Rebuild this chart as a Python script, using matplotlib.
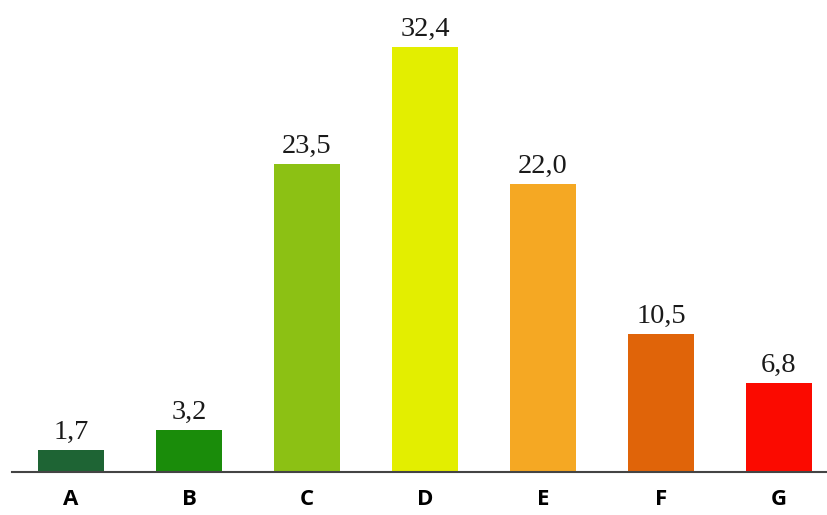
import matplotlib.pyplot as plt

# categories and values
categories = ["A", "B", "C", "D", "E", "F", "G"]
values = [1.7, 3.2, 23.5, 32.4, 22.0, 10.5, 6.8]
labels = ["1,7", "3,2", "23,5", "32,4", "22,0", "10,5", "6,8"]
colors = ["#1e6434", "#1a8c0a", "#8cc114", "#e3ee00", "#f5a823", "#e06409", "#fb0a00"]

fig = plt.figure(figsize=(8.28, 5.15), dpi=100)
ax = fig.add_axes([12 / 828, 43 / 515, 816 / 828, 472 / 515])

x = range(len(categories))
bars = ax.bar(x, values, width=0.56, color=colors)

for b, lab in zip(bars, labels):
    ax.annotate(lab, (b.get_x() + b.get_width() / 2, b.get_height()),
                xytext=(0, 8), textcoords="offset points",
                ha="center", va="baseline", fontsize=20.5,
                family="Liberation Serif", color="#1a1a1a")

ax.set_xlim(-0.5, 6.415)
ax.set_ylim(0, 36)
ax.set_xticks(list(x))
ax.set_xticklabels(categories, fontsize=16, fontweight="bold", family="Open Sans")
ax.tick_params(axis="x", length=0, pad=12)
ax.set_yticks([])
for s in ["top", "right", "left"]:
    ax.spines[s].set_visible(False)
ax.spines["bottom"].set_color("#444444")
ax.spines["bottom"].set_linewidth(1.5)

fig.savefig("out.png", dpi=100)
